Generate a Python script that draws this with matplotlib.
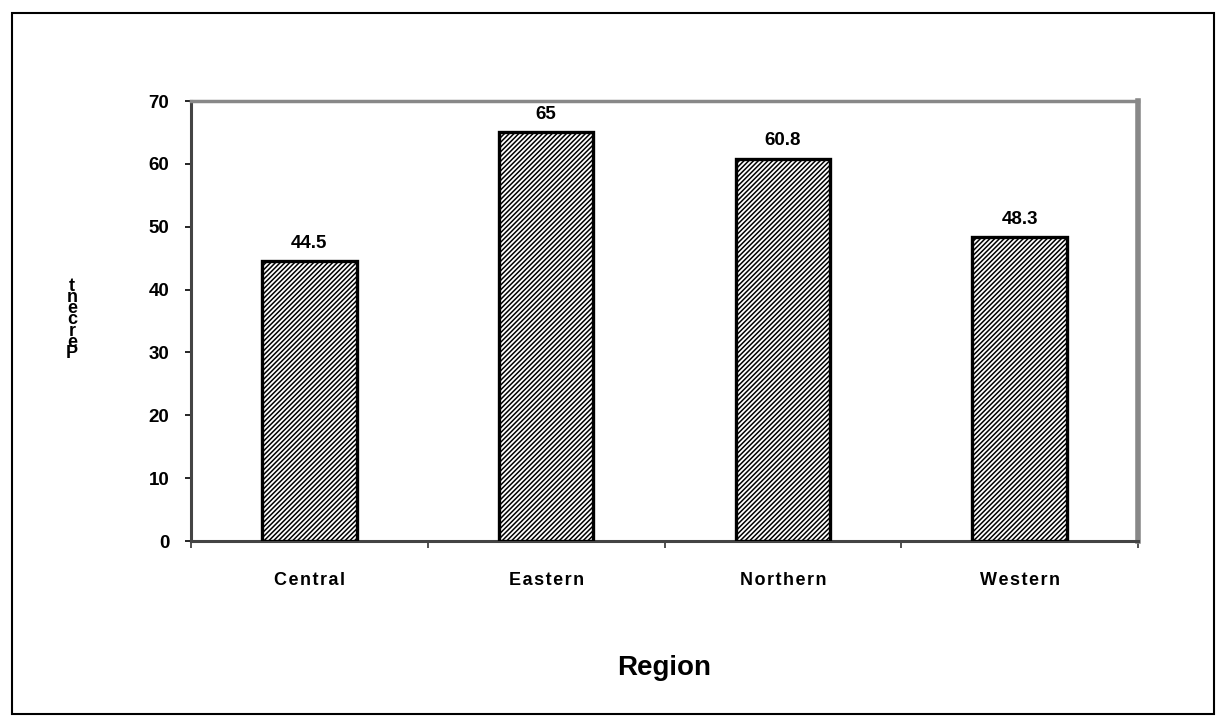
import matplotlib
matplotlib.use("Agg")
import matplotlib.pyplot as plt
from matplotlib.patches import Rectangle

categories = ["Central", "Eastern", "Northern", "Western"]
values = [44.5, 65, 60.8, 48.3]
value_labels = ["44.5", "65", "60.8", "48.3"]
yticks = [0, 10, 20, 30, 40, 50, 60, 70]

plt.rcParams['font.family'] = ['Liberation Sans', 'DejaVu Sans']

HS = "\u200a"


def spaced(s):
    return HS.join(s)


W, H = 1225, 727
fig = plt.figure(figsize=(W/100, H/100), dpi=100)
fig.patches.append(Rectangle((12/W, 13/H), 1202/W, 701/H, transform=fig.transFigure,
                             fill=False, edgecolor='black', linewidth=1.5))

ax = fig.add_axes([191/W, 1 - 541/H, (1138-191)/W, (541-101)/H])
x = list(range(len(categories)))
bars = ax.bar(x, values, width=0.4, color='white', edgecolor='black',
              linewidth=2.4, hatch='///////', zorder=3)
for b in bars:
    b.set_hatch_linewidth(1.1)
ax.set_xlim(-0.5, 3.5)
ax.set_ylim(0, 70)
ax.set_yticks(yticks)
ax.set_yticklabels([str(t) for t in yticks], fontsize=13.5, fontweight='bold')
ax.set_xticks([-0.5, 0.5, 1.5, 2.5, 3.5])
ax.set_xticklabels([])
ax.set_xticks(x, minor=True)
ax.set_xticklabels([spaced(c) for c in categories], minor=True, fontsize=13, fontweight='bold')
ax.tick_params(axis='x', which='minor', length=0, pad=22)
ax.tick_params(axis='x', which='major', direction='out', length=5, width=1.2, color='#333333')
ax.tick_params(axis='y', direction='out', length=4.5, width=1.2, pad=11)

for sp in ['left', 'bottom']:
    ax.spines[sp].set_color('#444444')
    ax.spines[sp].set_linewidth(2.2)
ax.spines['top'].set_color('#888888')
ax.spines['top'].set_linewidth(2.5)
ax.spines['right'].set_color('#888888')
ax.spines['right'].set_linewidth(4)

for xi, v, lab in zip(x, values, value_labels):
    ax.annotate(lab, (xi, v), xytext=(0, 7), textcoords='offset points',
                ha='center', va='bottom', fontsize=13.5, fontweight='bold')

fig.text(72/W, 1 - 320/H, "t\nn\ne\nc\nr\ne\nP", ha='center', va='center',
         fontsize=13, fontweight='bold', linespacing=0.55)
fig.text((191+1138)/2/W, 1 - 668/H, "Region", ha='center', va='center',
         fontsize=20, fontweight='bold')

fig.savefig("out.png", dpi=100, facecolor='white')
